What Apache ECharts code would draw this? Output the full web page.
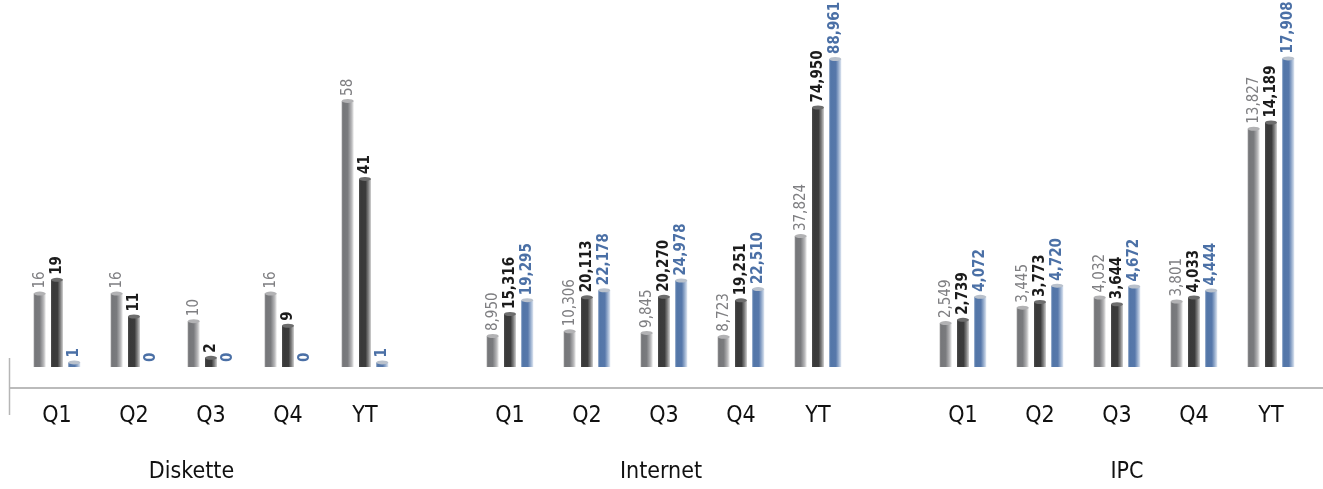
<!DOCTYPE html>
<html>
<head>
<meta charset="utf-8">
<script src="https://cdn.jsdelivr.net/npm/echarts@6/dist/echarts.min.js"></script>
<style>
  html, body { margin: 0; padding: 0; background: #ffffff; }
  #chart { width: 1323px; height: 489px; }
</style>
</head>
<body>
<div id="chart"></div>
<script>
// Periods shown under each group
const quarters = ['Q1', 'Q2', 'Q3', 'Q4', 'YT'];
// Group names
const groups = ['Diskette', 'Internet', 'IPC'];

// Diskette
const disketteGray  = [16, 16, 10, 16, 58];
const disketteBlack = [19, 11, 2, 9, 41];
const disketteBlue  = [1, 0, 0, 0, 1];
// Internet
const internetGray  = [8950, 10306, 9845, 8723, 37824];
const internetBlack = [15316, 20113, 20270, 19251, 74950];
const internetBlue  = [19295, 22178, 24978, 22510, 88961];
// IPC
const ipcGray  = [2549, 3445, 4032, 3801, 13827];
const ipcBlack = [2739, 3773, 3644, 4033, 14189];
const ipcBlue  = [4072, 4720, 4672, 4444, 17908];

const groupSeries = [
  [disketteGray, disketteBlack, disketteBlue],
  [internetGray, internetBlack, internetBlue],
  [ipcGray, ipcBlack, ipcBlue]
];

// ---- layout & styling ----
const FONT = '"Liberation Sans Narrow", "Arial Narrow", "DejaVu Sans Condensed", "Liberation Sans", sans-serif';
const gridLeft = [18.5, 471.5, 924.5];
const gridWidth = 385;
const yMax = [80, 106000, 21300];
const groupLabelX = [191.5, 661, 1127];

function grad(stops) {
  return new echarts.graphic.LinearGradient(0, 0, 1, 0,
    stops.map(s => ({ offset: s[0], color: s[1] })));
}
const styles = [
  { // gray
    fill: grad([[0, '#8b8b8d'], [0.15, '#76777a'], [0.5, '#7a7b7e'], [0.8, '#b3b3b5'], [1, '#ececec']]),
    cap: '#b2b2b4', label: '#7f7f82', weight: 'normal'
  },
  { // black
    fill: grad([[0, '#4d4d4d'], [0.15, '#393939'], [0.55, '#3c3c3c'], [0.8, '#858585'], [1, '#d2d2d2']]),
    cap: '#6d6d6d', label: '#1c1c1c', weight: 'bold'
  },
  { // blue
    fill: grad([[0, '#6586b4'], [0.15, '#5376a8'], [0.55, '#5778aa'], [0.8, '#9db2d0'], [1, '#dfe7f2']]),
    cap: '#b9c1cc', label: '#4b70a6', weight: 'bold'
  }
];

const fmt = v => Number(v).toLocaleString('en-US');

const grid = [], xAxis = [], yAxis = [], series = [];
groups.forEach((name, g) => {
  grid.push({ left: gridLeft[g], width: gridWidth, top: 0, height: 367 });
  xAxis.push({
    type: 'category', gridIndex: g, data: quarters,
    axisLine: { show: false }, axisTick: { show: false },
    axisLabel: { fontFamily: FONT, fontSize: 23, color: '#111111', margin: 49, verticalAlign: 'middle' }
  });
  yAxis.push({ type: 'value', gridIndex: g, min: 0, max: yMax[g], show: false, splitLine: { show: false } });
  groupSeries[g].forEach((vals, s) => {
    const st = styles[s];
    series.push({
      type: 'bar', name: name + s, xAxisIndex: g, yAxisIndex: g,
      data: vals, barWidth: 12, barGap: '44%',
      itemStyle: { color: st.fill },
      label: {
        show: true, position: 'top', rotate: 90, align: 'left', verticalAlign: 'middle',
        distance: 5, formatter: p => fmt(p.value),
        fontFamily: FONT, fontSize: 15, fontWeight: st.weight, color: st.label
      },
      silent: true, animation: false
    });
  });
  // elliptical caps on top of each bar
  groupSeries[g].forEach((vals, s) => {
    series.push({
      type: 'pictorialBar', name: name + 'cap' + s, xAxisIndex: g, yAxisIndex: g,
      data: vals.map(v => (v > 0 ? v : null)), barWidth: 12, barGap: '44%',
      symbol: 'circle', symbolSize: [12, 4], symbolPosition: 'end', symbolOffset: [0, '-50%'],
      itemStyle: { color: styles[s].cap },
      z: 3, silent: true, animation: false
    });
  });
});

const graphic = [
  { type: 'line', shape: { x1: 9, y1: 388, x2: 1323, y2: 388 }, style: { stroke: '#a4a4a4', lineWidth: 1.5 }, silent: true },
  { type: 'line', shape: { x1: 9.5, y1: 358, x2: 9.5, y2: 415 }, style: { stroke: '#b6b6b6', lineWidth: 1.5 }, silent: true }
];
groups.forEach((name, g) => {
  graphic.push({
    type: 'text', x: groupLabelX[g], y: 472, silent: true,
    style: { text: name, fontFamily: FONT, fontSize: 23, fill: '#111111', align: 'center', verticalAlign: 'middle' }
  });
});

const chart = echarts.init(document.getElementById('chart'), null, { renderer: 'canvas' });
chart.setOption({
  animation: false,
  backgroundColor: '#ffffff',
  grid, xAxis, yAxis, series, graphic
});
</script>
</body>
</html>
